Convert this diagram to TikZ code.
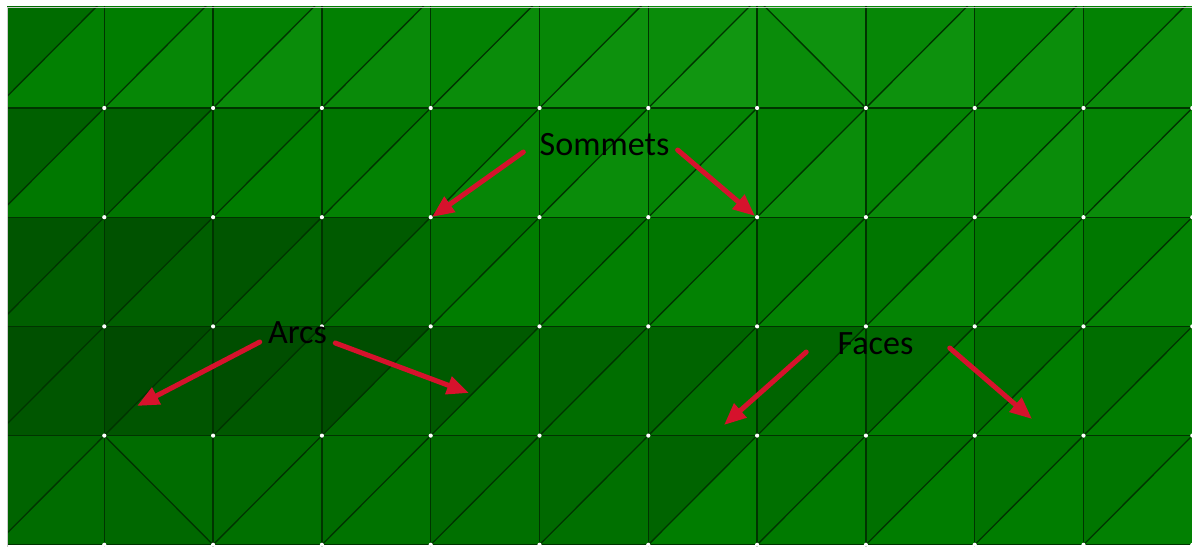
\documentclass[tikz,border=0pt]{standalone}
\usepackage{fontspec}
\setmainfont{Carlito}
\usetikzlibrary{arrows.meta}
\definecolor{meshline}{RGB}{0,52,0}
\definecolor{arrowred}{RGB}{214,18,44}
\tikzset{
  meshedge/.style={draw=meshline,line width=0.75pt},
  pointer/.style={arrowred,line width=0.1cm,line cap=round,
    -{Triangle[length=0.44cm,width=0.36cm]}},
  tag/.style={anchor=base,inner xsep=0.16cm,inner ysep=0pt,text=black,
    font=\fontsize{19.4}{23}\selectfont}
}
% one square of the mesh, split by a / diagonal
\newcommand{\meshcell}[4]{%
  \pgfmathsetmacro{\xa}{-4.5+108.8*#1}\pgfmathsetmacro{\xb}{\xa+108.8}
  \pgfmathsetmacro{\ya}{-1.2+109.2*#2}\pgfmathsetmacro{\yb}{\ya+109.2}
  \pgfmathtruncatemacro{\ra}{max(0,(#3-125)*0.7)}
  \pgfmathtruncatemacro{\rb}{max(0,(#4-125)*0.7)}
  \definecolor{shadeA}{RGB}{\ra,#3,\ra}\definecolor{shadeB}{RGB}{\rb,#4,\rb}
  \fill[shadeA] (\xa,\ya) -- (\xb,\ya) -- (\xa,\yb) -- cycle;
  \fill[shadeB] (\xb,\ya) -- (\xb,\yb) -- (\xa,\yb) -- cycle;
  \draw[meshedge] (\xa,\yb) -- (\xb,\ya);
}
% same, with a \ diagonal
\newcommand{\meshcellback}[4]{%
  \pgfmathsetmacro{\xa}{-4.5+108.8*#1}\pgfmathsetmacro{\xb}{\xa+108.8}
  \pgfmathsetmacro{\ya}{-1.2+109.2*#2}\pgfmathsetmacro{\yb}{\ya+109.2}
  \pgfmathtruncatemacro{\ra}{max(0,(#3-125)*0.7)}
  \pgfmathtruncatemacro{\rb}{max(0,(#4-125)*0.7)}
  \definecolor{shadeA}{RGB}{\ra,#3,\ra}\definecolor{shadeB}{RGB}{\rb,#4,\rb}
  \fill[shadeA] (\xa,\ya) -- (\xa,\yb) -- (\xb,\yb) -- cycle;
  \fill[shadeB] (\xa,\ya) -- (\xb,\ya) -- (\xb,\yb) -- cycle;
  \draw[meshedge] (\xa,\ya) -- (\xb,\yb);
}
\begin{document}
\begin{tikzpicture}[x=0.02cm,y=-0.02cm]
  \useasboundingbox (0,0) rectangle (1192,547);
  \fill[white] (0,0) rectangle (1192,547);
  \begin{scope}
    \clip (7,7) rectangle (1192,547);
    % Row 0
    \foreach \i/\a/\b in {0/108/128, 1/125/135, 2/128/140, 3/128/138, 4/130/140,
      5/135/145, 6/140/150, 8/135/145, 9/132/142, 10/130/140}
      {\meshcell{\i}{0}{\a}{\b}}
    \meshcellback{7}{0}{140}{146}
    % Row 1
    \foreach \i/\a/\b in {0/96/120, 1/98/118, 2/112/125, 3/118/130, 4/120/134,
      5/126/140, 6/132/142, 7/128/140, 8/130/138, 9/132/140, 10/132/140}
      {\meshcell{\i}{1}{\a}{\b}}
    % Row 2
    \foreach \i/\a/\b in {0/85/95, 1/82/95, 2/85/100, 3/90/110, 4/112/125,
      5/115/128, 6/118/130, 7/118/130, 8/118/132, 9/120/132, 10/120/132}
      {\meshcell{\i}{2}{\a}{\b}}
    % Row 3
    \foreach \i/\a/\b in {0/80/86, 1/75/85, 2/78/88, 3/78/105, 4/90/115,
      5/100/110, 6/100/112, 7/100/118, 8/105/125, 9/108/125, 10/110/125}
      {\meshcell{\i}{3}{\a}{\b}}
    % Row 4
    \foreach \i/\a/\b in {0/100/108, 2/105/112, 3/108/115, 4/105/112,
      5/105/112, 6/100/125, 7/112/122, 8/112/125, 9/115/125, 10/118/128}
      {\meshcell{\i}{4}{\a}{\b}}
    \meshcellback{1}{4}{104}{108}
    % Grid lines
    \foreach \i in {0,...,11}
      \draw[meshedge] (-4.5+108.8*\i,-2) -- (-4.5+108.8*\i,560);
    \foreach \j in {0,...,5}
      \draw[meshedge] (-5,-1.2+109.2*\j) -- (1200,-1.2+109.2*\j);
    % Vertices
    \foreach \i in {1,...,11}
      \foreach \j in {1,...,5}
        \fill[white] (-4.5+108.8*\i,-1.2+109.2*\j) circle[radius=0.042cm];
  \end{scope}
  \draw[black!20,line width=0.4pt] (7,547) -- (7,7) -- (1192,7);
  % Labels
  \node[tag] (sommets) at (604.5,156) {Sommets};
  \node[tag] (arcs) at (297.5,343) {Arcs};
  \node[tag] (faces) at (875.5,354) {Faces};
  % Arrow tips
  \coordinate (sommetsL) at (432,217);
  \coordinate (sommetsR) at (755,216);
  \coordinate (arcsL) at (137,406);
  \coordinate (arcsR) at (469,393);
  \coordinate (facesL) at (724,425);
  \coordinate (facesR) at (1032,419);
  \draw[pointer] ([shift={(-8,-4)}]sommets.base west) -- (sommetsL);
  \draw[pointer] ([shift={(0,-6)}]sommets.base east) -- (sommetsR);
  \draw[pointer] ([shift={(0,-1)}]arcs.base west) -- (arcsL);
  \draw[pointer] (arcs.base east) -- (arcsR);
  \draw[pointer] ([shift={(-23,-2)}]faces.base west) -- (facesL);
  \draw[pointer] ([shift={(28,-6)}]faces.base east) -- (facesR);
\end{tikzpicture}
\end{document}
